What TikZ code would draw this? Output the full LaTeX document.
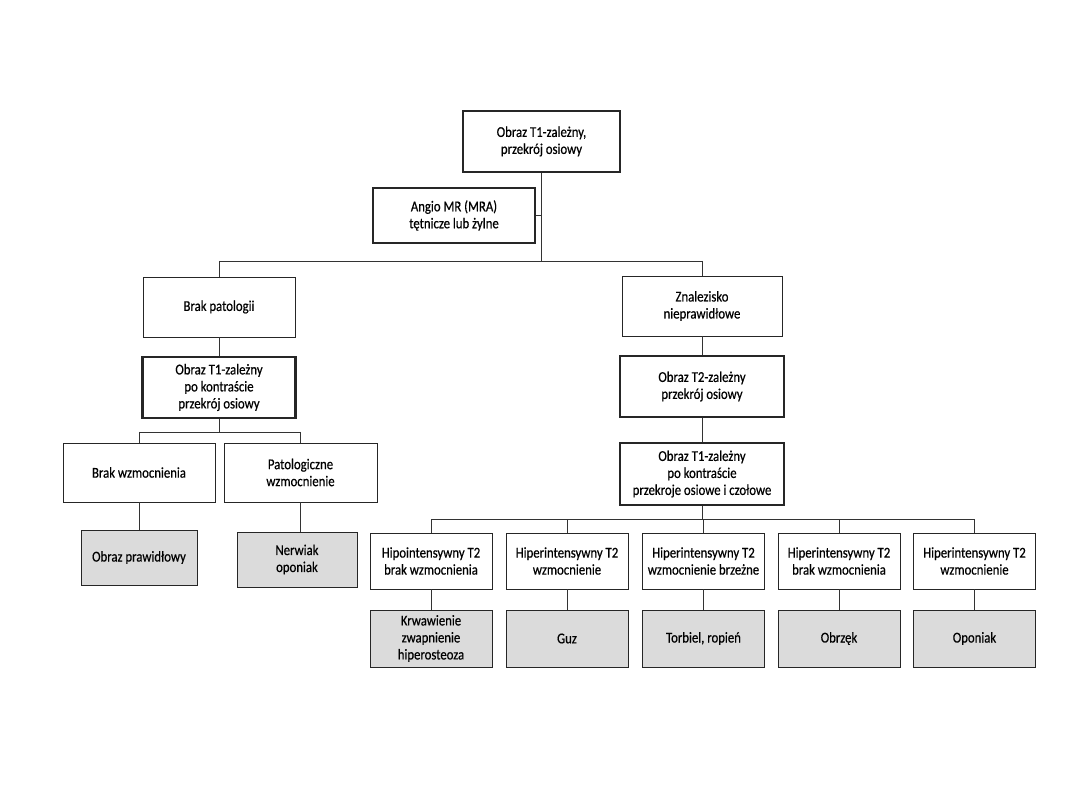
\documentclass[tikz,border=0pt]{standalone}
\usepackage{fontspec}
\setmainfont{Carlito}[FakeStretch=0.85,FakeBold=0.5]
\begin{document}
\begin{tikzpicture}[x=1pt,y=-1pt,
  box/.style={draw=black!85,line width=0.8pt,fill=white,align=center,inner sep=2pt,
    font=\fontsize{15}{17}\selectfont,text=black},
  thickbox/.style={box,line width=2.3pt},
  graybox/.style={box,fill=black!14},
  conn/.style={draw=black!80,line width=0.8pt}]
\useasboundingbox (0,0) rectangle (1080,810);
\fill[white] (0,0) rectangle (1080,810);
\newcommand{\bx}[6]{\node[#1,minimum width=#4pt,minimum height=#5pt] (#2) at #3 {#6};}
\bx{thickbox}{top}{(541.5,141.5)}{157}{61}{Obraz T1-zależny,\\przekrój osiowy}
\bx{thickbox}{angio}{(454,215.5)}{162}{55}{Angio MR (MRA)\\tętnicze lub żylne}
\bx{box}{brak}{(219,307)}{152}{60}{Brak patologii}
\bx{thickbox}{tla}{(219,387.5)}{153}{61}{Obraz T1-zależny\\po kontraście\\przekrój osiowy}
\bx{box}{bw}{(139,472.5)}{152}{59}{Brak wzmocnienia}
\bx{box}{pw}{(300.5,472.5)}{153}{59}{Patologiczne\\wzmocnienie}
\bx{graybox}{op}{(139,557.5)}{116}{55}{Obraz prawidłowy}
\bx{graybox}{nw}{(297,559.5)}{120}{55}{Nerwiak\\oponiak}
\bx{box}{znal}{(702,306)}{160}{60}{Znalezisko\\nieprawidłowe}
\bx{thickbox}{ttwo}{(702,386.5)}{164}{61}{Obraz T2-zależny\\przekrój osiowy}
\bx{thickbox}{tlb}{(702,474)}{164}{62}{Obraz T1-zależny\\po kontraście\\przekroje osiowe i czołowe}
\bx{box}{ra}{(431,561)}{122}{56}{Hipointensywny T2\\brak wzmocnienia}
\bx{box}{rb}{(567,561)}{122}{56}{Hiperintensywny T2\\wzmocnienie}
\bx{box}{rc}{(703.5,561)}{122}{56}{Hiperintensywny T2\\wzmocnienie brzeżne}
\bx{box}{rd}{(839,561)}{122}{56}{Hiperintensywny T2\\brak wzmocnienia}
\bx{box}{re}{(974.5,561)}{122}{56}{Hiperintensywny T2\\wzmocnienie}
\bx{graybox}{ga}{(431,638.5)}{122}{57}{Krwawienie\\zwapnienie\\hiperosteoza}
\bx{graybox}{gb}{(567,638.5)}{122}{57}{Guz}
\bx{graybox}{gc}{(703.5,638.5)}{122}{57}{Torbiel, ropień}
\bx{graybox}{gd}{(839,638.5)}{122}{57}{Obrzęk}
\bx{graybox}{ge}{(974.5,638.5)}{122}{57}{Oponiak}
% junction levels
\coordinate (hA) at (0,261);
\coordinate (hB) at (0,432);
\coordinate (hC) at (0,519);
% top level
\draw[conn] (top.south) -- (top.south |- hA);
\draw[conn] (angio.east) -- (angio.east -| top.south);
\draw[conn] (brak.north |- hA) -- (znal.north |- hA);
\draw[conn] (brak.north |- hA) -- (brak.north);
\draw[conn] (znal.north |- hA) -- (znal.north);
% left branch
\draw[conn] (brak.south) -- (tla.north);
\draw[conn] (tla.south) -- (tla.south |- hB);
\draw[conn] (bw.north |- hB) -- (pw.north |- hB);
\draw[conn] (bw.north |- hB) -- (bw.north);
\draw[conn] (pw.north |- hB) -- (pw.north);
\draw[conn] (bw.south) -- (bw.south -| op.north) -- (op.north);
\draw[conn] (pw.south) -- (pw.south |- nw.north);
% right branch
\draw[conn] (znal.south) -- (ttwo.north);
\draw[conn] (ttwo.south) -- (tlb.north);
\draw[conn] (tlb.south) -- (tlb.south |- hC);
\draw[conn] (ra.north |- hC) -- (re.north |- hC);
\foreach \n in {ra,rb,rc,rd,re}{\draw[conn] (\n.north |- hC) -- (\n.north);}
\draw[conn] (ra.south) -- (ga.north);
\draw[conn] (rb.south) -- (gb.north);
\draw[conn] (rc.south) -- (gc.north);
\draw[conn] (rd.south) -- (gd.north);
\draw[conn] (re.south) -- (ge.north);
\end{tikzpicture}
\end{document}
